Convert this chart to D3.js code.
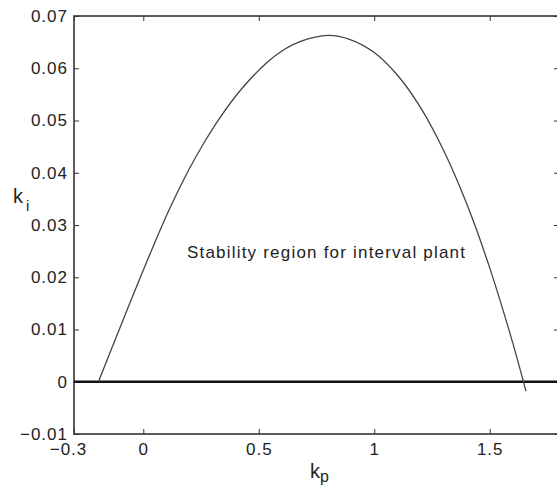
<!DOCTYPE html>
<html>
<head>
<meta charset="utf-8">
<script src="https://cdn.jsdelivr.net/npm/d3@7/dist/d3.min.js"></script>
<style>
  html, body { margin: 0; padding: 0; background: #fff; }
  svg { display: block; }
  text { font-family: "Liberation Sans", Arial, Helvetica, sans-serif; fill: #222; }
</style>
</head>
<body>
<svg id="chart" width="557" height="489"></svg>
<script>
// Data
const kp = [-0.194, -0.104, -0.032, 0.040, 0.113, 0.200, 0.260, 0.330, 0.417, 0.533, 0.600, 0.678, 0.801, 0.896, 0.997, 1.100, 1.200, 1.300, 1.400, 1.500, 1.600, 1.646, 1.657];
const ki = [0.0, 0.0100, 0.0179, 0.0256, 0.0330, 0.0408, 0.0455, 0.0504, 0.0556, 0.0610, 0.0633, 0.0651, 0.0663, 0.0655, 0.0631, 0.0587, 0.0525, 0.0443, 0.0341, 0.0218, 0.0074, 0.0, -0.0018];
const xTicks = [-0.3, 0, 0.5, 1, 1.5];
const yTicks = [-0.01, 0, 0.01, 0.02, 0.03, 0.04, 0.05, 0.06, 0.07];
const xDomain = [-0.3, 1.8];
const yDomain = [-0.01, 0.07];
const annotation = "Stability region for interval plant";

const svg = d3.select("#chart");
const L = 74, R = 559, T = 16, B = 434;
const x = d3.scaleLinear().domain(xDomain).range([L, R]);
const y = d3.scaleLinear().domain(yDomain).range([B, T]);

const axisColor = "#333";
const fmt = d => d3.format("")(d).replace("-", "\u2212");

// frame
svg.append("rect").attr("x", L).attr("y", T).attr("width", R - L).attr("height", B - T)
  .attr("fill", "none").attr("stroke", axisColor).attr("stroke-width", 1.6);

// bottom axis
const gx = svg.append("g").attr("transform", `translate(0,${B})`)
  .call(d3.axisBottom(x).tickValues(xTicks).tickSizeInner(-5).tickSizeOuter(0).tickPadding(9).tickFormat(fmt));
gx.select(".domain").remove();
gx.selectAll("line").attr("stroke", axisColor).attr("stroke-width", 1);
gx.selectAll("text").attr("font-size", 17).attr("letter-spacing", 1).attr("fill", "#222")
  .attr("dx", d => d === -0.3 ? -6 : 0);

// top axis ticks
const gt = svg.append("g").attr("transform", `translate(0,${T})`)
  .call(d3.axisTop(x).tickValues(xTicks).tickSizeInner(-5).tickSizeOuter(0).tickFormat(""));
gt.select(".domain").remove();
gt.selectAll("line").attr("stroke", axisColor);

// left axis
const gy = svg.append("g").attr("transform", `translate(${L},0)`)
  .call(d3.axisLeft(y).tickValues(yTicks).tickSizeInner(-5).tickSizeOuter(0).tickPadding(6).tickFormat(fmt));
gy.select(".domain").remove();
gy.selectAll("line").attr("stroke", axisColor);
gy.selectAll("text").attr("font-size", 17).attr("letter-spacing", 1).attr("fill", "#222")
  .attr("dy", "0.32em");

// right axis ticks
const gr = svg.append("g").attr("transform", `translate(${R},0)`)
  .call(d3.axisRight(y).tickValues(yTicks).tickSizeInner(-5).tickSizeOuter(0).tickFormat(""));
gr.select(".domain").remove();
gr.selectAll("line").attr("stroke", axisColor);

// zero line
svg.append("line").attr("x1", L).attr("x2", R).attr("y1", y(0)).attr("y2", y(0))
  .attr("stroke", "#111").attr("stroke-width", 2.6);

// curve
const line = d3.line().x(d => x(d[0])).y(d => y(d[1])).curve(d3.curveCatmullRom.alpha(0.5));
svg.append("path").datum(d3.zip(kp, ki)).attr("d", line)
  .attr("fill", "none").attr("stroke", "#444").attr("stroke-width", 1.3);

// annotation
svg.append("text").attr("x", 187).attr("y", 258).attr("font-size", 17)
  .attr("textLength", 278).attr("lengthAdjust", "spacing").text(annotation);

// axis labels
const yl = svg.append("text").attr("x", 13).attr("y", 203).attr("font-size", 20);
yl.append("tspan").text("k");
yl.append("tspan").attr("dx", 3).attr("dy", 8).attr("font-size", 15).text("i");

const xl = svg.append("text").attr("x", 310).attr("y", 478).attr("font-size", 20);
xl.append("tspan").text("k");
xl.append("tspan").attr("dx", 0).attr("dy", 4).attr("font-size", 16).text("p");
</script>
</body>
</html>
